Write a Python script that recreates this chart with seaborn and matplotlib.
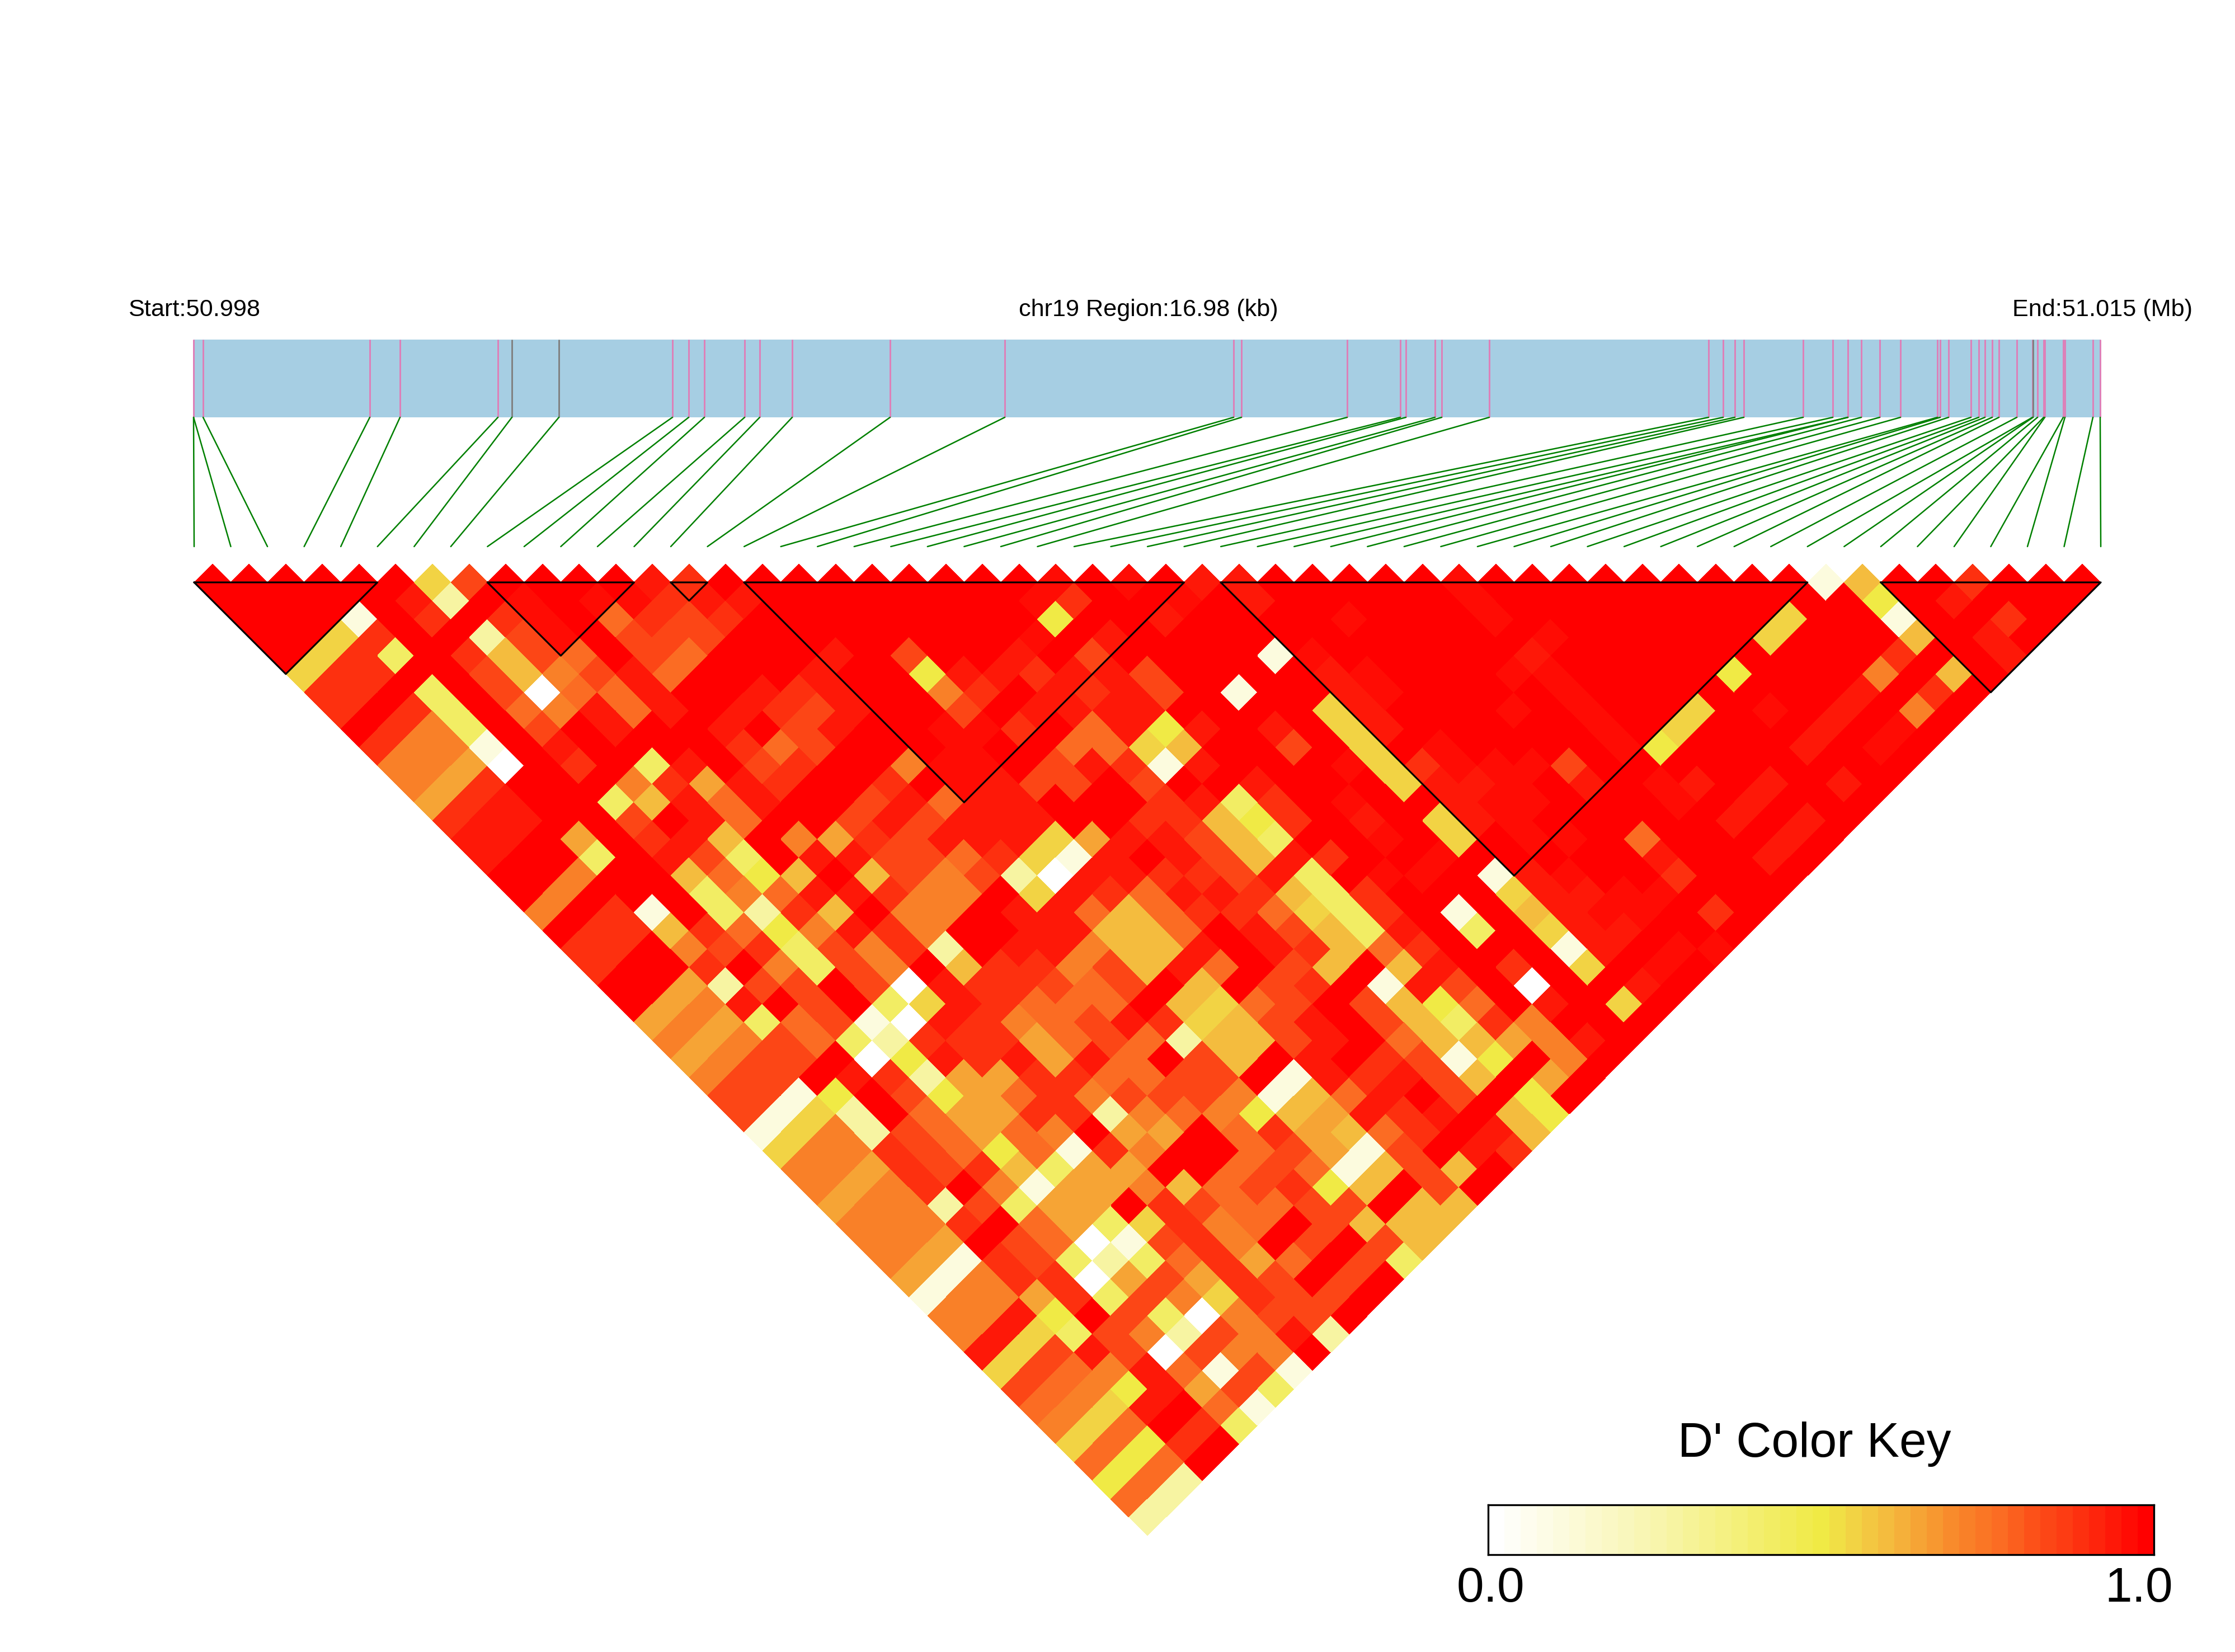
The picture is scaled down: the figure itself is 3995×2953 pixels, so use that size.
import numpy as np
import seaborn as sns
import matplotlib.pyplot as plt
from matplotlib.colors import LinearSegmentedColormap
from matplotlib.transforms import Affine2D

sns.set_theme(style='white')
plt.rcParams['font.family'] = ['Liberation Sans', 'DejaVu Sans']

# D' per pair, one string for each SNP distance (1 = neighbours), one code per cell
levels = [
    "eeeeee5aee eecbeeeeee eeededecce eeeedeeeee eeee16eebe ee",
    "eeeeec2ede ddbcceeeee eedbeedece eeeedeeeee eeeee4ecee e",
    "eee1ebebde 9babeeeeee ee4eeceeee deeedeeeee ee5ee1eebe",
    "ee5bee2ade aaaeeeeeee edeceeeeee eeeeedeeee e5eee6ece",
    "e5b3eb6a9e a9eeeceaee ceaeeee1de eeeeceeeee eeeebeec",
    "5bbeea68ac 9eeecee4cc bccaeeeecd eeeddeeee4 eee8e6e",
    "bbe3ea099c eecbcee8be cbcae1eecd eeeedeeeee eecebe",
    "beb3e98c9c ecbaceeaec ccceeee5ce eededee5ed ece8e",
    "eb83eaecee ceaceeddbe 9c4cece5ce eeeede5eee cede",
    "b881eceeee b9aeeedee9 956eeae5ed eeeed4eeec ede",
    "8870ebe3ce abee8ddeac b1ceeed5bd ddaeeeeeee ee",
    "87beee8b7c beebedcaae aeeceee5cc decedcecec e",
    "7bcee36c9c eeac9cceee bc3bedeecd deeedeceee",
    "bcceeaec9e eacaccceeb b64bece5cd eeeeecece",
    "cce7ebc6e8 7baccc57cc a63eede5ed de9eeece",
    "cee3eca3ec caa9b51cec a6cbeedeee eeceece",
    "ee8ee6946e 6a8a20ccbb ac3edde1cd eebeee",
    "e8eee389cc b88e5cb9cc b63beee5cc ddeee",
    "8eb1e32b6e 88ecc969bb 953be1e6cd debe",
    "ebb6b948cb 8eecc669ec a63ce3e5cc eee",
    "bbe8ab3a8b 2ecc866cec b69beee1ce dd",
    "beebe83a8e 6bb8a6c9ea 6e6cebe5ed e",
    "ee72aaea0c bba9ae6eab e1cae0eece",
    "e78ceae35c b999e659ae a649ece5e",
    "78739a10cb 89acb56ace a63b8eee",
    "878a932bbb 79a9266ace 96678ce",
    "78aae04cbc 7c9ea6eceb a14e8e",
    "8aaecb277b b99aae1cbc a6e7e",
    "aa14ea479b 8aaa8169ce ae4e",
    "a152e977bb 2898467cbc e64",
    "1582a9798e 77e9b769be c6",
    "588ba9491b 8ee9a71aec b",
    "887bab6377 ee9a916a6e",
    "878be81778 69ab46eae",
    "7882a377eb a99aae66",
    "888be9735b 89ea666",
    "887ea901ab 8eaea6",
    "871ba3239b 79ea3",
    "718bb07a7b aeae",
    "1887b3a85b aae",
    "88c4ea308aae",
    "8c53a82a8c2",
    "c5aca0a88e",
    "5a98c91a1",
    "a984c7a3",
    "985ce91",
    "859eb3",
    "594be",
    "949e",
    "492",
    "92",
    "2",
]
code_chars = list("0123456789abcde")
code_values = [0.02, 0.12, 0.27, 0.42, 0.50, 0.55, 0.60, 0.65, 0.71, 0.78, 0.83, 0.88, 0.93, 0.97, 1.0]

# SNP positions on the region bar, in figure pixels
snp_pos = [346, 346, 363, 661, 715, 890, 915, 999, 1202, 1231, 1259, 1331, 1358, 1416, 1591, 1796,
           2205, 2219, 2408, 2503, 2513, 2565, 2577, 2662, 3054, 3080, 3101, 3117, 3223, 3276,
           3303, 3303, 3327, 3360, 3397, 3463, 3468, 3483, 3523, 3537, 3548, 3561, 3573, 3605,
           3633, 3634, 3642, 3653, 3655, 3688, 3691, 3741, 3754]
gray_marks = [915, 999, 3634]
blocks = [(0, 5), (8, 12), (13, 14), (15, 27), (28, 44), (46, 52)]

key_values = np.linspace(0, 1, 41).reshape(1, -1)
cmap_stops = [(0.0, '#FFFFFF'), (0.25, '#F8F5AC'), (0.50, '#F0EA45'), (0.55, '#F2D344'), (0.60, '#F4BC3E'),
              (0.65, '#F6A435'), (0.71, '#F8862A'), (0.78, '#FB6A22'), (0.83, '#FC4E18'),
              (0.88, '#FD3A12'), (0.93, '#FE220B'), (1.0, '#FF0000')]
cmap = LinearSegmentedColormap.from_list('dprime', cmap_stops, N=41)

n_snp = len(snp_pos)
matrix = np.full((n_snp - 1, n_snp - 1), np.nan)
lookup = dict(zip(code_chars, code_values))
for k, row in enumerate(levels, start=1):
    row = row.replace(' ', '')
    assert len(row) == n_snp - k, (k, len(row))
    for i, ch in enumerate(row):
        matrix[i, i + k - 1] = lookup[ch]

W, H = 3995, 2953
step = 32.77
x0, y0 = 347, 1041

fig = plt.figure(figsize=(W / 300, H / 300), dpi=300)
ax = fig.add_axes([0, 0, 1, 1])

sns.heatmap(matrix, mask=np.isnan(matrix), cmap=cmap, vmin=0, vmax=1, cbar=False,
            xticklabels=False, yticklabels=False, ax=ax)
ax.set_xlim(0, W)
ax.set_ylim(H, 0)
ax.axis('off')

# turn the square heatmap into the LD triangle
mesh = ax.collections[0]
rot = Affine2D.from_values(step, step, step, -step, x0, y0)
mesh.set_transform(rot + ax.transData)
mesh.set_clip_on(False)

# region bar with SNP marks
ax.fill_between([347, 3755], 607, 746, color='#A6CEE3', lw=0)
for p in snp_pos:
    ax.plot([p, p], [607, 746], color='#808080' if p in gray_marks else '#DE7FB8', lw=0.7, solid_capstyle='butt')

# connectors from bar to the triangle
for i, p in enumerate(snp_pos):
    ax.plot([p, x0 + i * 2 * step], [746, 977], color='#008000', lw=0.6)

# LD blocks
for a, b in blocks:
    xa = x0 + a * 2 * step
    xb = x0 + b * 2 * step
    ax.plot([xa, xb, (xa + xb) / 2, xa], [y0, y0, y0 + (b - a) * step, y0], color='black', lw=0.75)

ax.text(229, 565, 'Start:50.998', fontsize=10.4, ha='left', va='baseline', color='black')
ax.text(2053, 565, 'chr19 Region:16.98 (kb)', fontsize=10.4, ha='center', va='baseline', color='black')
ax.text(3919, 565, 'End:51.015 (Mb)', fontsize=10.4, ha='right', va='baseline', color='black')

# colour key
ax.text(3243, 2604, "D' Color Key", fontsize=21, ha='center', va='baseline', color='black')
ax.text(2664, 2863, '0.0', fontsize=21, ha='center', va='baseline', color='black')
ax.text(3823, 2863, '1.0', fontsize=21, ha='center', va='baseline', color='black')

key_ax = fig.add_axes([2660 / W, 1 - 2779 / H, (3850 - 2660) / W, (2779 - 2690) / H])
sns.heatmap(key_values, cmap=cmap, vmin=0, vmax=1, cbar=False,
            xticklabels=False, yticklabels=False, ax=key_ax)
for spine in key_ax.spines.values():
    spine.set_visible(True)
    spine.set_color('black')
    spine.set_linewidth(0.8)

fig.savefig('out.png', dpi=300, facecolor='white')
